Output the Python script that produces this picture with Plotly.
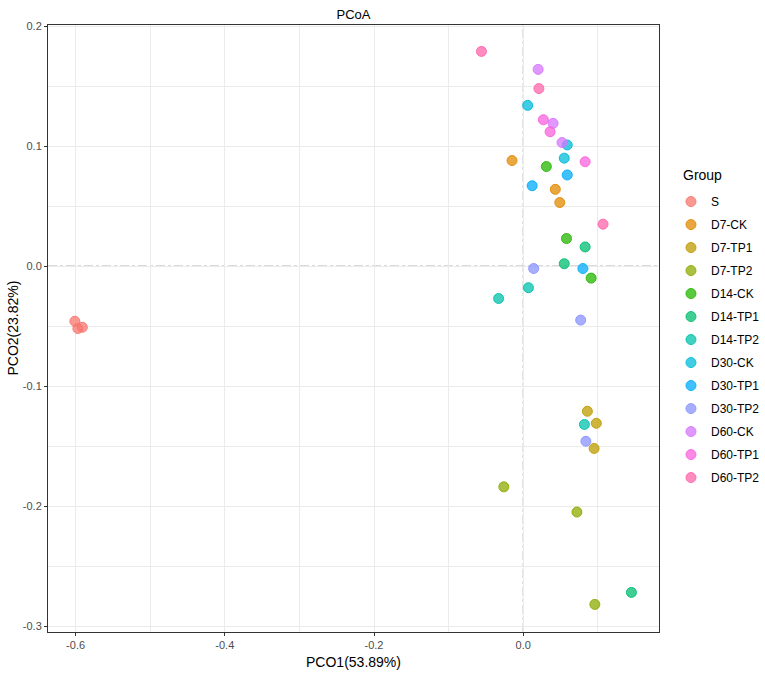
import plotly.graph_objects as go

groups = ["S", "D7-CK", "D7-TP1", "D7-TP2", "D14-CK", "D14-TP1", "D14-TP2",
          "D30-CK", "D30-TP1", "D30-TP2", "D60-CK", "D60-TP1", "D60-TP2"]
colors = ["#F8766D", "#E18A00", "#BE9C00", "#8CAB00", "#24B700", "#00BE70", "#00C1AB",
          "#00BBDA", "#00ACFC", "#8B93FF", "#D575FE", "#F962DD", "#FF65AC"]

pco1 = {
    "S": [-0.601, -0.597, -0.591],
    "D7-CK": [-0.015, 0.043, 0.049],
    "D7-TP1": [0.086, 0.098, 0.095],
    "D7-TP2": [-0.026, 0.072, 0.096],
    "D14-CK": [0.031, 0.058, 0.091],
    "D14-TP1": [0.083, 0.055, 0.145],
    "D14-TP2": [0.007, -0.033, 0.082],
    "D30-CK": [0.006, 0.059, 0.055],
    "D30-TP1": [0.059, 0.012, 0.080],
    "D30-TP2": [0.014, 0.077, 0.084],
    "D60-CK": [0.020, 0.040, 0.052],
    "D60-TP1": [0.027, 0.036, 0.083],
    "D60-TP2": [-0.056, 0.021, 0.107],
}
pco2 = {
    "S": [-0.046, -0.052, -0.051],
    "D7-CK": [0.088, 0.064, 0.053],
    "D7-TP1": [-0.121, -0.131, -0.152],
    "D7-TP2": [-0.184, -0.205, -0.282],
    "D14-CK": [0.083, 0.023, -0.010],
    "D14-TP1": [0.016, 0.002, -0.272],
    "D14-TP2": [-0.018, -0.027, -0.132],
    "D30-CK": [0.134, 0.101, 0.090],
    "D30-TP1": [0.076, 0.067, -0.002],
    "D30-TP2": [-0.002, -0.045, -0.146],
    "D60-CK": [0.164, 0.119, 0.103],
    "D60-TP1": [0.122, 0.112, 0.087],
    "D60-TP2": [0.179, 0.148, 0.035],
}

x_ticks = [-0.6, -0.4, -0.2, 0.0]
x_tick_labels = ["-0.6", "-0.4", "-0.2", "0.0"]
y_ticks = [0.2, 0.1, 0.0, -0.1, -0.2, -0.3]
y_tick_labels = ["0.2", "0.1", "0.0", "-0.1", "-0.2", "-0.3"]


def rgba(h, a):
    h = h.lstrip("#")
    r, g, b = int(h[0:2], 16), int(h[2:4], 16), int(h[4:6], 16)
    return f"rgba({r},{g},{b},{a})"


fig = go.Figure()
for g, c in zip(groups, colors):
    fig.add_trace(go.Scatter(
        x=pco1[g], y=pco2[g], mode="markers", name=g, legendgroup=g,
        marker=dict(size=10, color=rgba(c, 0.75), line=dict(color=rgba(c, 0.9), width=1)),
    ))

font = "Liberation Sans, Arial, sans-serif"
grid = "#EBEBEB"

fig.add_shape(type="line", xref="x", yref="paper", x0=0, x1=0, y0=0, y1=1,
              line=dict(color="#A0A0A0", width=1, dash="dashdot"), layer="between")
fig.add_shape(type="line", xref="paper", yref="y", x0=0, x1=1, y0=0, y1=0,
              line=dict(color="#A0A0A0", width=1, dash="dashdot"), layer="between")

fig.add_annotation(text="Group", xref="paper", yref="paper", x=1.036, y=0.753,
                   xanchor="left", yanchor="middle", showarrow=False,
                   font=dict(size=14, color="#000000", family=font))
fig.add_annotation(text="PCO2(23.82%)", xref="paper", yref="paper", x=0, y=0.5,
                   xshift=-36, xanchor="center", yanchor="middle", textangle=-90,
                   showarrow=False, font=dict(size=14, color="#000000", family=font))

fig.update_layout(
    width=765, height=678,
    margin=dict(l=48, r=106, t=25, b=46, autoexpand=False),
    paper_bgcolor="white", plot_bgcolor="white",
    font=dict(family=font, color="#000000"),
    title=dict(text="PCoA", x=0.5, xref="paper", xanchor="center",
               y=1 - 14 / 678, yref="container", yanchor="middle",
               font=dict(size=13, color="#000000", family=font)),
    legend=dict(font=dict(size=12, color="#000000"),
                x=1.0196, xanchor="left", y=0.733, yanchor="top",
                tracegroupgap=4, itemsizing="trace", bgcolor="rgba(0,0,0,0)"),
    showlegend=True,
)

fig.update_xaxes(
    range=[-0.637, 0.182], tickvals=x_ticks, ticktext=x_tick_labels,
    showgrid=True, gridcolor=grid, gridwidth=1, zeroline=False,
    minor=dict(dtick=0.1, tick0=0, showgrid=True, gridcolor=grid, gridwidth=0.5),
    showline=True, mirror=True, linecolor="#333333", linewidth=1,
    ticks="outside", ticklen=3, tickcolor="#333333", tickwidth=1,
    tickfont=dict(size=11, color="#4D4D4D", family=font),
    title=dict(text="PCO1(53.89%)", font=dict(size=14, color="#000000", family=font), standoff=6),
)
fig.update_yaxes(
    range=[-0.305, 0.201], tickvals=y_ticks, ticktext=y_tick_labels,
    showgrid=True, gridcolor=grid, gridwidth=1, zeroline=False,
    minor=dict(dtick=0.05, tick0=0, showgrid=True, gridcolor=grid, gridwidth=0.5),
    showline=True, mirror=True, linecolor="#333333", linewidth=1,
    ticks="outside", ticklen=3, tickcolor="#333333", tickwidth=1,
    tickfont=dict(size=11, color="#4D4D4D", family=font),
)

fig.write_html("out.html", config={"displayModeBar": False},
               post_script="document.body.style.margin='0';")
